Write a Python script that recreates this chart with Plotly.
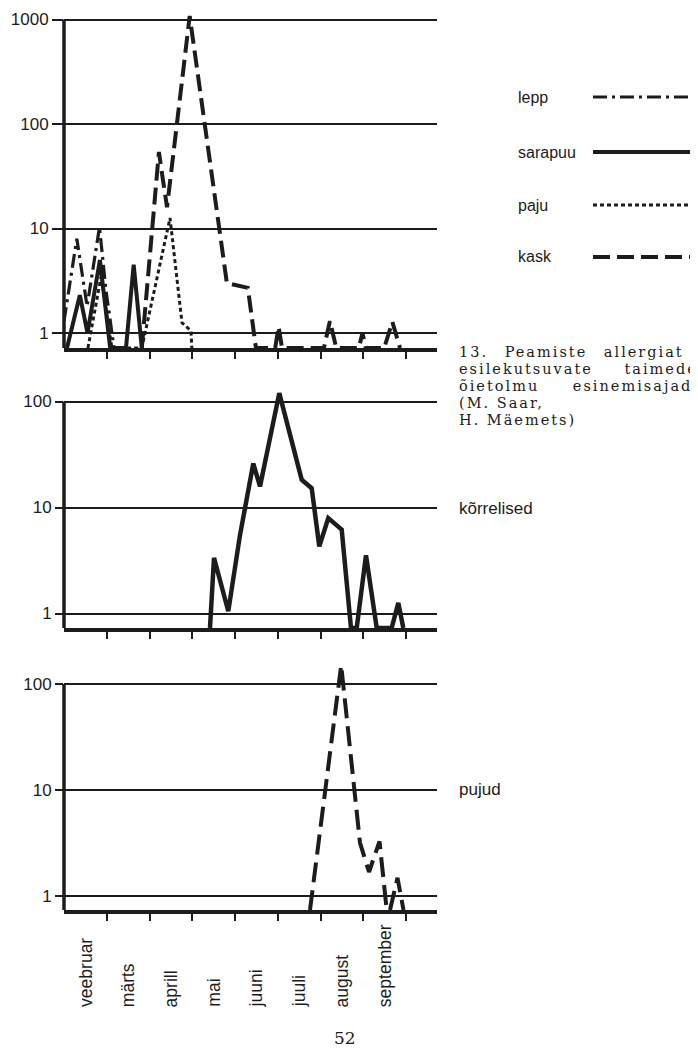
import plotly.graph_objects as go

# page offset of the figure inside the browser page (default body margin)
OFF = 8
FW, FH = 698 - OFF, 1050 - OFF

MONTHS = ["veebruar", "märts", "aprill", "mai", "juuni", "juuli", "august", "september"]

# x = months counted from the start of February; 0 = no pollen (drawn on the base line)
LEPP_X = [0.00, 0.30, 0.54, 0.83, 0.98, 1.12, 1.17]
LEPP_Y = [1.3, 8.0, 1.8, 10.3, 2.6, 0.95, 0]

SARAPUU_X = [0.07, 0.37, 0.55, 0.84, 1.08, 1.45, 1.63, 1.82]
SARAPUU_Y = [0, 2.3, 1.0, 5.0, 0, 0, 4.5, 0]

PAJU_X = [0.56, 0.87, 1.12, 1.82, 2.48, 2.76, 2.97, 2.99]
PAJU_Y = [0, 3.5, 0, 0, 12.6, 1.25, 1.05, 0]

KASK_X = [1.82, 2.22, 2.30, 2.41, 2.94, 3.81, 4.30, 4.49, 4.94, 5.02, 5.10,
          6.08, 6.22, 6.37, 6.90, 6.98, 7.06, 7.49, 7.68, 7.86]
KASK_Y = [0, 54, 32, 16, 1080, 3.0, 2.7, 0, 0, 1.15, 0,
          0, 1.3, 0, 0, 1.0, 0, 0, 1.28, 0]

KORR_X = [3.415, 3.509, 3.843, 4.117, 4.428, 4.585, 5.036, 5.560, 5.794, 5.972,
          6.182, 6.496, 6.713, 6.847, 7.064, 7.315, 7.665, 7.820, 7.937]
KORR_Y = [0, 3.35, 1.05, 5.5, 26, 15.8, 120, 18.3, 15.2, 4.3,
          7.95, 6.2, 0, 0, 3.54, 0, 0, 1.26, 0]

PUJUD_X = [5.754, 6.484, 6.924, 7.135, 7.380, 7.549, 7.626, 7.801, 7.942]
PUJUD_Y = [0, 150, 3.2, 1.7, 3.3, 0, 0, 1.5, 0]

LEGEND_NAMES = ["lepp", "sarapuu", "paju", "kask"]
CAPTION = ["13. Peamiste allergiat", "esilekutsuvate taimede",
           "õietolmu esinemisajad", "(M. Saar,", "H. Mäemets)"]
PANEL_LABELS = ["kõrrelised", "pujud"]
PAGE_NO = "52"

INK = "#1c1c1c"
SANS = "Liberation Sans, Arial, sans-serif"
SERIF = "DejaVu Serif, serif"

DASH = {
    "lepp": "14px,5px,3px,5px",
    "sarapuu": "solid",
    "paju": "4px,3px",
    "kask": "17px,7px",
}
WIDTH = {"lepp": 3.2, "sarapuu": 4, "paju": 3, "kask": 4}


def px_x(p):
    return (p - OFF) / FW


def px_y(p):
    return min(1.0, max(0.0, 1 - (p - OFF) / FH))


# panel geometry on the page: floor pixel, pixel of value 1, px per decade,
# highest tick (log), top of plotting room (log)
PANELS = {
    "y": dict(floor=348, one=333, dec=104.5, tick_top=3, room=3.08,
              ticks=[1, 10, 100, 1000], ticklen=11),
    "y2": dict(floor=628, one=613.5, dec=106, tick_top=2, room=2.12,
               ticks=[1, 10, 100], ticklen=8),
    "y3": dict(floor=910, one=896.5, dec=106.25, tick_top=2, room=2.25,
               ticks=[1, 10, 100], ticklen=8),
}
for p in PANELS.values():
    p["ymin"] = -(p["floor"] - p["one"]) / p["dec"]
    p["top_px"] = p["one"] - p["dec"] * p["room"]


def floor_fill(vals, ax):
    base = 10 ** PANELS[ax]["ymin"]
    return [base if v == 0 else v for v in vals]


fig = go.Figure()

series_top = [
    ("kask", KASK_X, KASK_Y),
    ("paju", PAJU_X, PAJU_Y),
    ("lepp", LEPP_X, LEPP_Y),
    ("sarapuu", SARAPUU_X, SARAPUU_Y),
]
for name, xs, ys in series_top:
    fig.add_trace(go.Scatter(
        x=xs, y=floor_fill(ys, "y"), mode="lines", name=name,
        line=dict(color=INK, width=WIDTH[name], dash=DASH[name]),
        xaxis="x", yaxis="y", showlegend=False))

fig.add_trace(go.Scatter(
    x=KORR_X, y=floor_fill(KORR_Y, "y2"), mode="lines", name="kõrrelised",
    line=dict(color=INK, width=4.5), xaxis="x2", yaxis="y2", showlegend=False))

fig.add_trace(go.Scatter(
    x=PUJUD_X, y=floor_fill(PUJUD_Y, "y3"), mode="lines", name="pujud",
    line=dict(color=INK, width=4, dash="20px,8px"), xaxis="x3", yaxis="y3",
    showlegend=False))

XDOM = [px_x(64), px_x(437)]
XRANGE = [0, (437 - 64) / 42.75]


def xaxis_cfg(anchor):
    return dict(domain=XDOM, range=XRANGE, anchor=anchor, showline=True,
                linecolor=INK, linewidth=3.5, ticks="outside",
                tickvals=list(range(1, 9)), ticklen=7, tickwidth=2,
                tickcolor=INK, showticklabels=False, showgrid=False,
                zeroline=False, fixedrange=True)


def yaxis_cfg(key, anchor):
    p = PANELS[key]
    return dict(domain=[px_y(p["floor"]), px_y(p["top_px"])], type="log",
                range=[p["ymin"], p["room"]], anchor=anchor, showline=False,
                ticks="outside", tickvals=p["ticks"],
                ticktext=[str(v) for v in p["ticks"]],
                ticklen=p["ticklen"], tickwidth=2, tickcolor=INK,
                showgrid=True, gridcolor=INK, gridwidth=2,
                tickfont=dict(family=SANS, size=17, color=INK),
                zeroline=False, fixedrange=True)


fig.update_layout(
    width=FW, height=FH,
    margin=dict(l=0, r=0, t=0, b=0, autoexpand=False),
    paper_bgcolor="white", plot_bgcolor="white",
    showlegend=False,
    xaxis=xaxis_cfg("y"),
    xaxis2=xaxis_cfg("y2"),
    xaxis3=xaxis_cfg("y3"),
    yaxis=yaxis_cfg("y", "x"),
    yaxis2=yaxis_cfg("y2", "x2"),
    yaxis3=yaxis_cfg("y3", "x3"),
)

shapes = []
# vertical axis lines: from the base line up to the highest tick only
for key, xk in [("y", "x"), ("y2", "x2"), ("y3", "x3")]:
    p = PANELS[key]
    frac = (p["tick_top"] - p["ymin"]) / (p["room"] - p["ymin"])
    shapes.append(dict(type="line", xref=f"{xk} domain", yref=f"{key} domain",
                       x0=0, x1=0, y0=0, y1=frac,
                       line=dict(color=INK, width=3.5)))

ann = []
# month labels under the bottom panel
for i, m in enumerate(MONTHS):
    ann.append(dict(x=i + 0.5, xref="x3", y=px_y(1009), yref="paper",
                    text=m, textangle=-90, xanchor="center", yanchor="bottom",
                    showarrow=False, font=dict(family=SANS, size=17.5, color=INK)))

# legend
LEG_Y = [97, 152, 205, 257]
for name, yy in zip(LEGEND_NAMES, LEG_Y):
    ann.append(dict(x=px_x(516), y=px_y(yy), xref="paper", yref="paper",
                    text=name, xanchor="left", yanchor="middle", showarrow=False,
                    font=dict(family=SANS, size=16, color=INK)))
    shapes.append(dict(type="line", xref="paper", yref="paper",
                       x0=px_x(593), x1=px_x(693), y0=px_y(yy), y1=px_y(yy),
                       line=dict(color=INK, width=WIDTH[name], dash=DASH[name])))

# caption, justified with word/letter spacing
CAP_Y = [352, 369, 386, 403, 420]
CAP_WS = [10, 25, 27, 0, 0]
for line, yy, ws in zip(CAPTION, CAP_Y, CAP_WS):
    txt = f'<span style="letter-spacing:2px;word-spacing:{ws}px">{line}</span>'
    ann.append(dict(x=px_x(457), y=px_y(yy), xref="paper", yref="paper",
                    text=txt, xanchor="left", yanchor="middle",
                    showarrow=False, font=dict(family=SERIF, size=14.5, color=INK)))

# panel labels
for lab, yy in zip(PANEL_LABELS, [508, 789]):
    ann.append(dict(x=px_x(457), y=px_y(yy), xref="paper", yref="paper",
                    text=lab, xanchor="left", yanchor="middle", showarrow=False,
                    font=dict(family=SANS, size=17, color=INK)))

# page number at the bottom edge
ann.append(dict(x=px_x(345), y=0, xref="paper", yref="paper",
                text=PAGE_NO, xanchor="center", yanchor="bottom", showarrow=False,
                font=dict(family=SERIF, size=17, color=INK)))

fig.update_layout(annotations=ann, shapes=shapes)

fig.write_html("out.html")
